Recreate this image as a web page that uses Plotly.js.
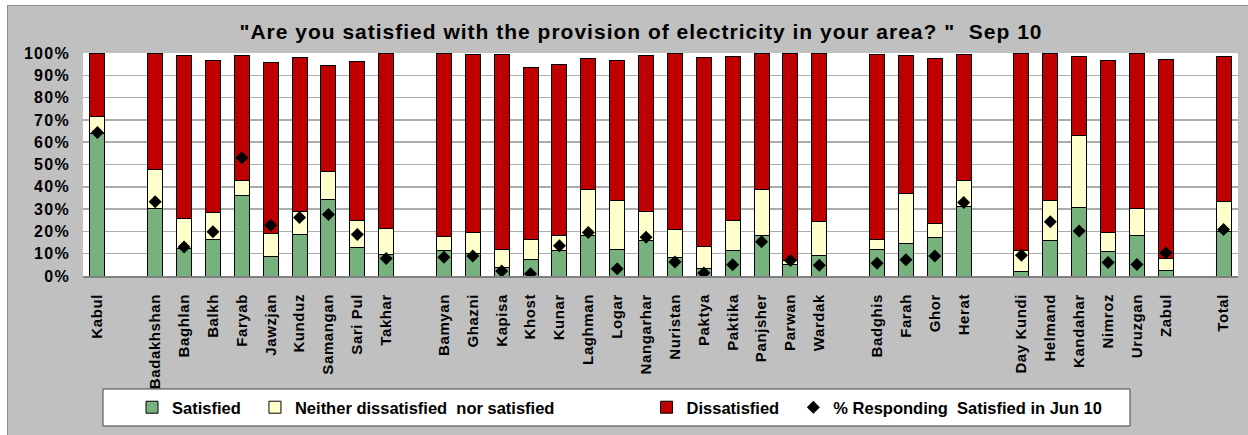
<!DOCTYPE html>
<html>
<head>
<meta charset="utf-8">
<script src="https://cdn.plot.ly/plotly-3.0.1.min.js"></script>
<style>
  html, body { margin: 0; padding: 0; background: #ffffff; width: 1248px; height: 435px; overflow: hidden; }
  #chart { position: absolute; left: 7px; top: 5px; width: 1241px; height: 430px; border-left: 1px solid #8c8c8c; border-top: 1px solid #8c8c8c; box-sizing: border-box; }
  #chart .xtick text { letter-spacing: 0.6px; font-weight: bold; }
  #chart .ytick text { letter-spacing: 1.3px; font-weight: bold; }
  #chart .gtitle { letter-spacing: 1px; }
</style>
</head>
<body>
<div id="chart"></div>
<script>
// Provinces, in chart order
const provinces = ["Kabul",
  "Badakhshan","Baghlan","Balkh","Faryab","Jawzjan","Kunduz","Samangan","Sari Pul","Takhar",
  "Bamyan","Ghazni","Kapisa","Khost","Kunar","Laghman","Logar","Nangarhar","Nuristan","Paktya","Paktika","Panjsher","Parwan","Wardak",
  "Badghis","Farah","Ghor","Herat",
  "Day Kundi","Helmand","Kandahar","Nimroz","Uruzgan","Zabul",
  "Total"];
// Regional groups end after these provinces (a blank slot follows)
const groupEnds = ["Kabul","Takhar","Wardak","Herat","Zabul"];

const satisfied    = [64.0, 30.1,12.3,16.3,36.1, 8.8,18.6,34.2,12.7, 9.6, 11.4,10.0, 3.9, 7.5,11.4,18.1,11.8,15.9, 8.5, 3.3,11.4,18.1, 5.1, 9.4, 11.8,14.8,17.2,31.3,  2.1,15.9,30.9,10.9,18.3, 2.5, 19.8];
const neither      = [ 7.5, 17.7,13.5,12.0, 6.8,10.2,10.2,12.6,12.0,11.8,  6.1, 9.6, 7.9, 8.7, 6.7,20.9,21.9,12.9,12.5, 9.9,13.5,20.9, 1.9,15.0,  4.4,22.2, 6.3,11.6,  9.4,18.1,32.1, 8.7,12.0, 5.3, 13.5];
const dissatisfied = [28.2, 52.2,73.3,68.4,56.2,76.6,69.2,47.4,71.4,78.3, 82.5,79.9,87.7,77.5,76.7,58.6,62.9,70.3,79.0,84.8,73.6,61.0,93.0,75.6, 83.3,62.1,74.1,56.6, 88.5,66.0,35.5,77.1,69.7,89.2, 65.2];
const jun10        = [64.3, 33.3,13.0,19.8,53.0,22.8,26.2,27.6,18.6, 7.8,  8.4, 9.0, 2.2, 1.0,13.6,19.5, 3.3,17.4, 6.3, 1.3, 5.1,15.4, 7.0, 4.8,  5.7, 7.3, 9.0,33.0,  9.3,24.3,20.2, 6.0, 5.2,10.3, 20.8];

const seriesNames = ["Satisfied", "Neither dissatisfied  nor satisfied", "Dissatisfied", "% Responding  Satisfied in Jun 10"];

// Build category axis with blank spacer slots between regions
const cats = [], sat = [], nei = [], dis = [], jun = [];
let spacer = " ";
provinces.forEach((p, i) => {
  cats.push(p); sat.push(satisfied[i]); nei.push(neither[i]); dis.push(dissatisfied[i]); jun.push(jun10[i]);
  if (groupEnds.includes(p)) {
    cats.push(spacer); sat.push(null); nei.push(null); dis.push(null); jun.push(null);
    spacer += " ";
  }
});

// legend spacing padding (non-breaking spaces) to mimic the original legend layout
const pad = n => "\u00a0".repeat(n);
const barLine = { color: "#000000", width: 1 };
const traces = [
  { type: "bar", name: seriesNames[0] + pad(2), x: cats, y: sat, marker: { color: "#77B27E", line: barLine } },
  { type: "bar", name: seriesNames[1] + pad(19), x: cats, y: nei, marker: { color: "#FFFFCC", line: barLine } },
  { type: "bar", name: seriesNames[2] + pad(2), x: cats, y: dis, marker: { color: "#C00000", line: barLine } },
  { type: "scatter", mode: "markers", name: seriesNames[3], x: cats, y: jun,
    marker: { symbol: "diamond", color: "#000000", size: 10, line: { width: 0 } } }
];

const W = 1240, H = 429;
const M = { l: 75, r: 10, t: 47, b: 159 };
const PW = W - M.l - M.r, PH = H - M.t - M.b;
const px2x = x => (x - M.l) / PW;          // div px -> paper x
const px2y = y => (H - M.b - y) / PH;      // div px -> paper y

const layout = {
  width: W, height: H,
  paper_bgcolor: "#C0C0C0",
  plot_bgcolor: "#FFFFFF",
  margin: M,
  barmode: "stack",
  bargap: 0.48,
  showlegend: true,
  hovermode: false,
  title: {
    text: "\"Are you satisfied with the provision of electricity in your area? \"  Sep 10",
    font: { family: "Arial", size: 21, color: "#000000", weight: "bold" },
    x: 633 / W, xanchor: "center", y: 1 - 25.5 / H, yanchor: "middle"
  },
  xaxis: {
    type: "category",
    range: [-0.5, cats.length - 0.5],
    tickangle: -90,
    tickfont: { family: "Arial", size: 15, color: "#000000", weight: "bold" },
    ticklabelstandoff: 10,
    showline: true, linecolor: "#808080", linewidth: 2,
    ticks: "", showgrid: false, fixedrange: true
  },
  yaxis: {
    range: [0, 100], dtick: 10, ticksuffix: "%",
    tickfont: { family: "Arial", size: 16, color: "#000000", weight: "bold" },
    ticklabelstandoff: 12,
    showgrid: true, gridcolor: "#ABABAB", gridwidth: 1.5,
    zeroline: false, showline: false, ticks: "", fixedrange: true
  },
  shapes: [
    { type: "rect", xref: "paper", yref: "paper", layer: "above",
      x0: px2x(95), x1: px2x(1122), y0: px2y(383), y1: px2y(420),
      fillcolor: "#FFFFFF", line: { color: "#404040", width: 1 } }
  ],
  legend: {
    orientation: "h",
    x: px2x(124), xanchor: "left",
    y: px2y(401.5), yanchor: "middle",
    bgcolor: "rgba(0,0,0,0)", borderwidth: 0,
    font: { family: "Arial", size: 16.5, color: "#000000", weight: "bold" },
    itemwidth: 30, traceorder: "normal"
  }
};

Plotly.newPlot("chart", traces, layout, { staticPlot: true, displayModeBar: false });
</script>
</body>
</html>
